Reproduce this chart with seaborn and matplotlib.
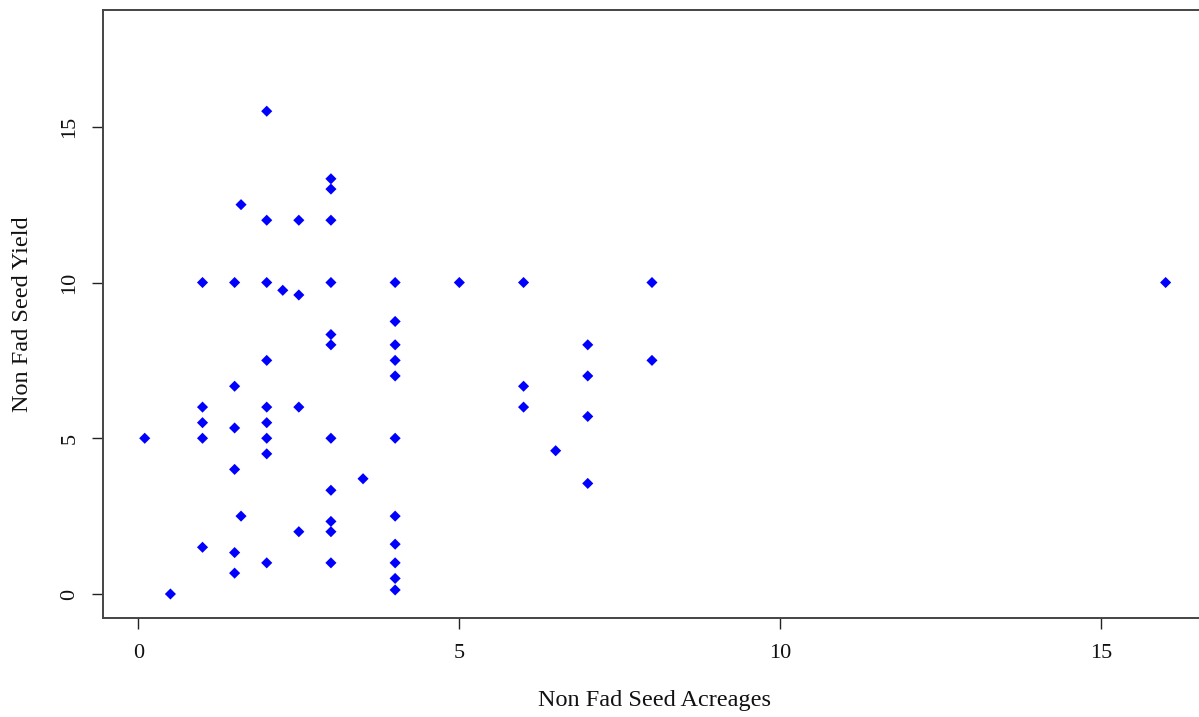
import pandas as pd
import numpy as np
import seaborn as sns
import matplotlib.pyplot as plt

# Non fad seed: acreage vs yield
acreage = [0.1, 0.5,
           1, 1, 1, 1, 1,
           1.5, 1.5, 1.5, 1.5, 1.5, 1.5,
           1.6, 1.6,
           2, 2, 2, 2, 2, 2, 2, 2, 2,
           2.25,
           2.5, 2.5, 2.5, 2.5,
           3, 3, 3, 3, 3, 3, 3, 3, 3, 3, 3,
           3.5,
           4, 4, 4, 4, 4, 4, 4, 4, 4, 4, 4,
           5,
           6, 6, 6,
           6.5,
           7, 7, 7, 7,
           8, 8,
           16]
seed_yield = [5, 0,
              10, 6, 5.5, 5, 1.5,
              10, 6.67, 5.33, 4, 1.33, 0.67,
              12.5, 2.5,
              15.5, 12, 10, 7.5, 6, 5.5, 5, 4.5, 1,
              9.75,
              12, 9.6, 6, 2,
              13.33, 13, 12, 10, 8.33, 8, 5, 3.33, 2.33, 2, 1,
              3.7,
              10, 8.75, 8, 7.5, 7, 5, 2.5, 1.6, 1, 0.5, 0.13,
              10,
              10, 6.67, 6,
              4.6,
              8, 7, 5.7, 3.55,
              10, 7.5,
              10]
x_ticks = [0, 5, 10, 15]
y_ticks = [0, 5, 10, 15]

df = pd.DataFrame({"Acreage": acreage, "Yield": seed_yield})

sns.set_style("ticks")
plt.rcParams["font.family"] = ["Liberation Serif", "DejaVu Serif"]

fig = plt.figure(figsize=(11.99, 7.17), dpi=100)
ax = fig.add_axes([0.0859, 0.1381, 0.92, 0.848])

sns.scatterplot(data=df, x="Acreage", y="Yield", marker="D", s=32,
                color="#0000FF", edgecolor="none", linewidth=0, ax=ax)

ax.set_xlim(-0.55, 16.63)
ax.set_ylim(-0.77, 18.75)
ax.set_xticks(x_ticks)
ax.set_yticks(y_ticks)
ax.set_xticklabels([str(t) for t in x_ticks], fontsize=16)
ax.set_yticklabels([str(t) for t in y_ticks], fontsize=16, rotation=90, va="center")
ax.tick_params(axis="both", direction="out", length=8, width=1.0, color="#222222",
               labelcolor="#111111", bottom=True, left=True)
ax.tick_params(axis="x", pad=10.5)
ax.tick_params(axis="y", pad=9)

for side in ["left", "bottom", "top", "right"]:
    ax.spines[side].set_visible(True)
    ax.spines[side].set_color("#444444")
    ax.spines[side].set_linewidth(1.4)

ax.set_xlabel("Non Fad Seed Acreages", fontsize=17.5, color="#111111", va="center")
ax.set_ylabel("Non Fad Seed Yield", fontsize=17.5, color="#111111", va="center")
ax.xaxis.set_label_coords(0.5, -0.135)
ax.yaxis.set_label_coords(-0.0734, 0.5)

fig.savefig("out.png", dpi=100)
